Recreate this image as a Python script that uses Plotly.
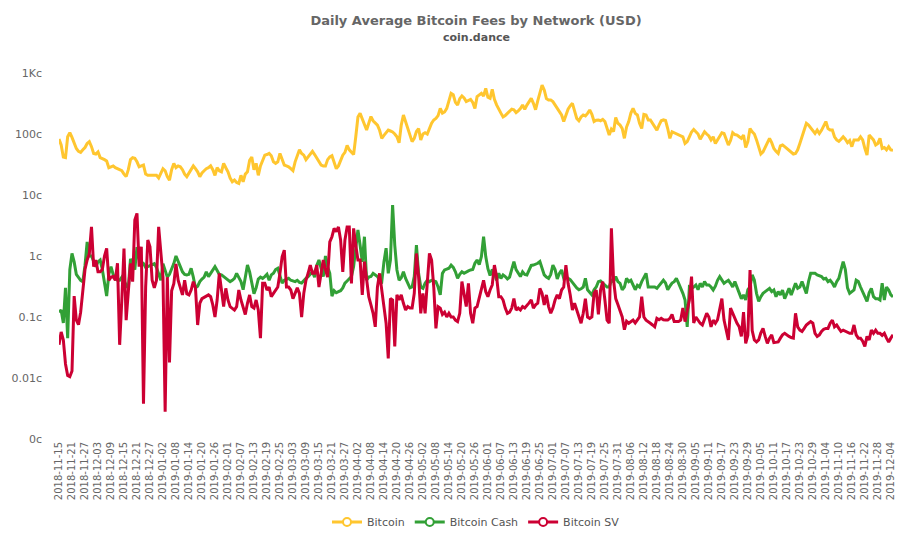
import pandas as pd
import plotly.graph_objects as go

# =========================
# Dados diários (centavos de USD)
# =========================
start_date = "2018-11-15"

bitcoin = [
    83, 66, 42, 41, 90, 105, 88, 70, 58, 52,
    50, 55, 60, 70, 75, 62, 48, 47, 51, 41,
    40, 38, 36, 28, 29, 30, 28, 27, 26, 25,
    22, 20, 26, 38, 41, 40, 35, 29, 30, 31,
    22, 21, 21, 21, 21, 21, 19, 22, 27, 25,
    20, 17.5, 26, 33, 28, 30, 29, 26, 22, 20,
    23, 26, 30, 27, 24, 20, 23, 25, 27, 28,
    30, 26, 21, 28, 25, 24, 33, 28, 24, 19,
    16.5, 17.6, 16, 15.5, 21, 16.5, 22, 24, 37, 42,
    26, 33, 21, 30, 37, 45, 46, 48, 44, 35,
    33, 35, 48, 38, 31, 30, 29, 27, 25, 35,
    45, 55, 48, 45, 38, 42, 45, 52, 46, 40,
    34, 31, 30, 30, 38, 42, 44, 35, 27, 30,
    36, 45, 50, 65, 55, 50, 46, 90, 190, 218,
    180, 140, 116, 150, 193, 165, 150, 140, 115, 85,
    95, 105, 116, 112, 108, 100, 90, 72, 140, 205,
    160, 125, 90, 75, 85, 110, 123, 80, 100, 105,
    100, 123, 150, 170, 180, 200, 263, 220, 230, 263,
    340, 464, 440, 330, 300, 380, 420, 390, 340, 355,
    370, 330, 263, 410, 440, 464, 420, 560, 400, 384,
    540, 370, 300, 250, 220, 190, 200, 218, 240, 255,
    250, 225, 240, 260, 300, 255, 298, 340, 384, 318,
    250, 350, 450, 635, 527, 380, 360, 360, 340, 300,
    260, 232, 205, 160, 200, 255, 290, 318, 240, 180,
    165, 190, 205, 198, 218, 248, 210, 160, 168, 170,
    165, 174, 160, 123, 96, 120, 110, 187, 150, 140,
    123, 85, 130, 160, 220, 263, 218, 205, 150, 123,
    210, 205, 170, 170, 150, 132, 116, 140, 165, 170,
    166, 123, 85, 109, 105, 102, 96, 94, 90, 70,
    75, 90, 108, 119, 109, 100, 82, 96, 109, 100,
    93, 80, 90, 70, 80, 90, 105, 102, 80, 66,
    78, 105, 98, 96, 90, 85, 96, 60, 75, 123,
    109, 100, 80, 58, 47, 51, 60, 75, 85, 72,
    58, 52, 48, 64, 66, 62, 58, 55, 50, 47,
    48, 55, 70, 88, 120, 150, 140, 125, 110, 102,
    116, 102, 115, 135, 160, 123, 116, 116, 90, 80,
    76, 82, 90, 82, 72, 78, 62, 80, 80, 80,
    90, 80, 58, 45, 96, 88, 80, 66, 70, 85,
    58, 60, 55, 62, 55, 54,
]

bitcoin_cash = [
    0.12, 0.13, 0.08, 0.30, 0.045, 0.6, 1.1, 0.8, 0.5, 0.45,
    0.4, 0.38, 0.7, 1.7, 1.0, 1.0, 0.8, 0.67, 0.8, 0.86,
    0.6, 0.35, 0.22, 0.5, 0.67, 0.5, 0.42, 0.40, 0.40, 0.45,
    0.40, 0.33, 0.3, 0.9, 0.7, 0.6, 1.4, 0.9, 0.8, 0.75,
    0.65, 0.67, 0.7, 0.72, 0.75, 0.65, 0.5, 0.4, 0.75, 0.6,
    0.45, 0.5, 0.6, 0.75, 1.0, 0.8, 0.65, 0.55, 0.5, 0.49,
    0.5, 0.63, 0.45, 0.3, 0.32, 0.38, 0.42, 0.45, 0.55, 0.46,
    0.52, 0.6, 0.67, 0.58, 0.5, 0.49, 0.46, 0.44, 0.40, 0.38,
    0.40, 0.43, 0.52, 0.45, 0.38, 0.28, 0.49, 0.71, 0.55, 0.38,
    0.24, 0.3, 0.42, 0.45, 0.43, 0.46, 0.5, 0.40, 0.49, 0.52,
    0.6, 0.63, 0.49, 0.36, 0.40, 0.42, 0.43, 0.40, 0.39, 0.38,
    0.40, 0.37, 0.36, 0.40, 0.43, 0.46, 0.5, 0.55, 0.45, 0.7,
    0.86, 0.63, 0.46, 1.0, 0.67, 0.52, 0.22, 0.27, 0.25, 0.26,
    0.27, 0.3, 0.36, 0.39, 0.42, 0.46, 0.67, 1.42, 2.67, 1.5,
    0.8, 2.07, 0.40, 0.45, 0.46, 0.52, 0.49, 0.46, 0.40, 0.38,
    0.8, 1.34, 0.52, 0.86, 6.85, 1.5, 0.59, 0.40, 0.44, 0.55,
    0.43, 0.35, 0.3, 0.31, 0.46, 1.51, 0.52, 0.31, 0.295, 0.356,
    0.40, 0.38, 0.40, 0.39, 0.38, 0.31, 0.23, 0.52, 0.59, 0.61,
    0.63, 0.71, 0.65, 0.55, 0.43, 0.5, 0.55, 0.52, 0.55, 0.57,
    0.59, 0.6, 0.76, 0.86, 0.72, 0.98, 2.07, 0.98, 0.62, 0.48,
    0.6, 0.52, 0.4, 0.52, 0.43, 0.49, 0.46, 0.42, 0.45, 0.6,
    0.81, 0.6, 0.52, 0.46, 0.55, 0.5, 0.49, 0.59, 0.7, 0.71,
    0.73, 0.76, 0.81, 0.63, 0.49, 0.45, 0.43, 0.5, 0.71, 0.6,
    0.42, 0.52, 0.59, 0.43, 0.46, 0.43, 0.41, 0.37, 0.33, 0.3,
    0.28, 0.29, 0.31, 0.43, 0.28, 0.25, 0.23, 0.28, 0.31, 0.38,
    0.39, 0.36, 0.33, 0.31, 0.31, 0.4, 0.38, 0.46, 0.38, 0.356,
    0.28, 0.31, 0.43, 0.38, 0.40, 0.34, 0.28, 0.33, 0.31, 0.38,
    0.45, 0.52, 0.31, 0.31, 0.31, 0.31, 0.295, 0.33, 0.356, 0.4,
    0.36, 0.28, 0.32, 0.36, 0.38, 0.43, 0.36, 0.3, 0.244, 0.19,
    0.069, 0.31, 0.295, 0.31, 0.335, 0.28, 0.356, 0.31, 0.38, 0.335,
    0.335, 0.31, 0.277, 0.32, 0.4, 0.46, 0.4, 0.356, 0.38, 0.4,
    0.356, 0.31, 0.38, 0.31, 0.24, 0.2, 0.23, 0.19, 0.28, 0.31,
    0.49, 0.40, 0.244, 0.18, 0.215, 0.244, 0.26, 0.28, 0.295, 0.26,
    0.277, 0.215, 0.26, 0.23, 0.277, 0.2, 0.25, 0.295, 0.23, 0.295,
    0.356, 0.295, 0.31, 0.38, 0.3, 0.244, 0.38, 0.52, 0.52, 0.52,
    0.49, 0.47, 0.46, 0.42, 0.43, 0.38, 0.40, 0.36, 0.31, 0.38,
    0.43, 0.59, 0.81, 0.6, 0.3, 0.244, 0.26, 0.277, 0.40, 0.38,
    0.31, 0.26, 0.215, 0.18, 0.25, 0.295, 0.215, 0.2, 0.2, 0.19,
    0.36, 0.19, 0.31, 0.277, 0.23, 0.215,
]

bitcoin_sv = [
    0.035, 0.057, 0.042, 0.017, 0.011, 0.0105, 0.013, 0.22, 0.089, 0.075,
    0.12, 0.31, 0.6, 0.86, 1.1, 3.0, 0.67, 0.86, 0.55, 0.55,
    0.6, 1.0, 1.33, 0.4, 0.45, 0.46, 0.40, 0.76, 0.035, 0.19,
    1.33, 0.089, 0.31, 0.76, 0.38, 3.9, 5.0, 0.67, 1.42, 0.0038,
    0.31, 1.83, 1.42, 0.4, 0.3, 0.4, 3.0, 1.1, 0.45, 0.0028,
    0.45, 0.018, 0.27, 0.35, 0.74, 0.4, 0.31, 0.23, 0.4, 0.24,
    0.23, 0.277, 0.38, 0.3, 0.074, 0.168, 0.2, 0.21, 0.215, 0.23,
    0.215, 0.158, 0.10, 0.19, 0.52, 0.277, 0.148, 0.295, 0.19, 0.148,
    0.14, 0.13, 0.148, 0.277, 0.19, 0.14, 0.11, 0.168, 0.23, 0.148,
    0.14, 0.19, 0.13, 0.045, 0.356, 0.356, 0.277, 0.31, 0.215, 0.244,
    0.277, 0.31, 0.52, 0.97, 1.25, 0.31, 0.31, 0.277, 0.2, 0.244,
    0.3, 0.244, 0.10, 0.244, 0.40, 0.52, 0.71, 0.52, 0.52, 0.71,
    0.31, 0.52, 0.86, 0.6, 0.45, 1.7, 2.07, 2.84, 2.5, 3.0,
    1.83, 0.55, 1.83, 3.0, 3.0, 0.356, 2.84, 1.5, 0.86, 0.86,
    0.23, 0.81, 0.46, 0.215, 0.158, 0.115, 0.069, 0.31, 0.52, 0.244,
    0.148, 0.079, 0.021, 0.2, 0.19, 0.033, 0.23, 0.19, 0.23, 0.168,
    0.13, 0.148, 0.14, 0.14, 0.244, 1.1, 0.46, 0.115, 0.244, 0.115,
    0.40, 1.1, 0.86, 0.31, 0.065, 0.148, 0.14, 0.11, 0.12, 0.10,
    0.115, 0.10, 0.10, 0.089, 0.084, 0.115, 0.38, 0.244, 0.148, 0.356,
    0.115, 0.079, 0.14, 0.148, 0.2, 0.277, 0.40, 0.26, 0.215, 0.277,
    0.335, 0.71, 0.46, 0.215, 0.215, 0.19, 0.14, 0.115, 0.12, 0.14,
    0.2, 0.13, 0.14, 0.13, 0.148, 0.14, 0.158, 0.17, 0.19, 0.14,
    0.158, 0.168, 0.295, 0.244, 0.158, 0.23, 0.148, 0.115, 0.14, 0.19,
    0.23, 0.2, 0.277, 0.31, 0.71, 0.356, 0.23, 0.13, 0.168, 0.13,
    0.095, 0.079, 0.115, 0.2, 0.10, 0.095, 0.10, 0.244, 0.277, 0.11,
    0.277, 0.38, 0.19, 0.089, 0.079, 2.84, 0.4, 0.2, 0.16, 0.13,
    0.10, 0.062, 0.085, 0.079, 0.084, 0.089, 0.08, 0.09, 0.10, 0.215,
    0.10, 0.089, 0.085, 0.079, 0.074, 0.069, 0.095, 0.09, 0.095, 0.09,
    0.089, 0.089, 0.095, 0.11, 0.084, 0.084, 0.084, 0.089, 0.14, 0.084,
    0.12, 0.19, 0.46, 0.08, 0.10, 0.089, 0.079, 0.074, 0.09, 0.115,
    0.10, 0.069, 0.089, 0.079, 0.09, 0.14, 0.2, 0.089, 0.061, 0.042,
    0.14, 0.115, 0.095, 0.079, 0.069, 0.048, 0.12, 0.037, 0.05, 0.59,
    0.06, 0.042, 0.039, 0.042, 0.055, 0.065, 0.048, 0.037, 0.045, 0.051,
    0.038, 0.039, 0.039, 0.045, 0.051, 0.054, 0.05, 0.048, 0.046, 0.045,
    0.115, 0.069, 0.061, 0.058, 0.065, 0.074, 0.079, 0.084, 0.079, 0.054,
    0.048, 0.051, 0.058, 0.063, 0.065, 0.065, 0.079, 0.089, 0.069, 0.074,
    0.065, 0.058, 0.061, 0.058, 0.055, 0.054, 0.054, 0.074, 0.051, 0.045,
    0.045, 0.04, 0.033, 0.048, 0.042, 0.061, 0.054, 0.061, 0.054, 0.054,
    0.05, 0.054, 0.045, 0.039, 0.045, 0.051,
]

tick_vals = [0.001, 0.01, 0.1, 1, 10, 100, 1000]
tick_text = ["0c", "0.01c", "0.1c", "1c", "10c", "100c", "1Kc"]

series = [
    ("Bitcoin", bitcoin, "#ffc62f"),
    ("Bitcoin Cash", bitcoin_cash, "#32a036"),
    ("Bitcoin SV", bitcoin_sv, "#cc0033"),
]

# =========================
# Figura
# =========================
fig = go.Figure()

for name, values, color in series:
    dates = pd.date_range(start_date, periods=len(values), freq="D")
    fig.add_trace(go.Scatter(
        x=dates, y=values, mode="lines", name=name,
        line=dict(color=color, width=3),
        showlegend=False,
    ))

# itens de legenda com marcador vazado (estilo do original)
for name, values, color in series:
    fig.add_trace(go.Scatter(
        x=[None], y=[None], mode="lines+markers", name=name,
        line=dict(color=color, width=3),
        marker=dict(symbol="circle", size=8, color="white",
                    line=dict(color=color, width=2)),
    ))

end_date = pd.Timestamp(start_date) + pd.Timedelta(days=len(bitcoin) - 1)

fig.update_layout(
    width=910, height=550,
    margin=dict(l=59, r=17, t=73, b=111),
    paper_bgcolor="white", plot_bgcolor="white",
    font=dict(family="DejaVu Sans", color="#666666", size=11),
    title=dict(
        text="<b>Daily Average Bitcoin Fees by Network (USD)</b>",
        x=0.5, xref="paper", xanchor="center",
        y=0.962, yanchor="middle",
        font=dict(size=13, color="#666666"),
    ),
    legend=dict(
        orientation="h", x=0.5, xanchor="center",
        y=-0.227, yanchor="middle",
        font=dict(size=11, color="#555555"),
        itemwidth=30,
    ),
    showlegend=True,
)

fig.add_annotation(
    text="<b>coin.dance</b>", xref="paper", yref="paper",
    x=0.5, y=1.096, xanchor="center", yanchor="middle",
    showarrow=False, font=dict(size=11, color="#555555"),
)

fig.update_xaxes(
    type="date",
    range=[start_date, end_date],
    tick0=start_date, dtick=6 * 86400000,
    tickformat="%Y-%m-%d", tickangle=-90,
    tickfont=dict(size=10, color="#666666"),
    showgrid=False, zeroline=False, showline=False,
)

fig.update_yaxes(
    type="log", range=[-3, 3],
    tickvals=tick_vals, ticktext=tick_text,
    tickfont=dict(size=11, color="#666666"),
    ticklabelstandoff=16,
    showgrid=False, zeroline=False, showline=False,
)

# sem margem do body e sem barra de ferramentas
fig.write_html(
    "out.html",
    config={"displayModeBar": False},
    post_script="document.body.style.margin='0';",
)
